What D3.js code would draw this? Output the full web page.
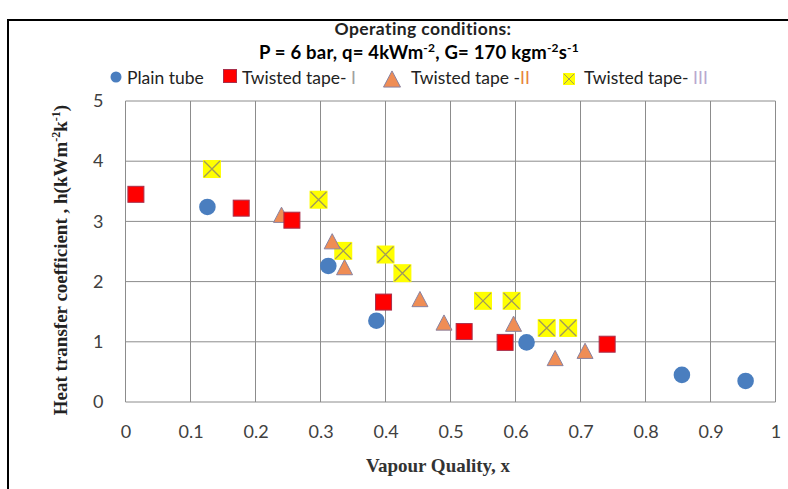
<!DOCTYPE html>
<html><head><meta charset="utf-8">
<script src="https://cdn.jsdelivr.net/npm/d3@7"></script>
<style>body{margin:0;background:#fff;} svg{display:block;}</style>
</head><body>
<svg id="c" width="788" height="489"></svg>
<script>
const titleLine1 = "Operating conditions:";
const xTicks = [0,0.1,0.2,0.3,0.4,0.5,0.6,0.7,0.8,0.9,1];
const yTicks = [0,1,2,3,4,5];
const seriesNames = ["Plain tube","Twisted tape- ","Twisted tape -","Twisted tape- "];
const seriesSuffix = ["","I","II","III"];
const plainX = [0.126, 0.312, 0.386, 0.617, 0.856, 0.954];
const plainY = [3.24, 2.26, 1.35, 0.99, 0.45, 0.35];
const tt1X = [0.016, 0.178, 0.256, 0.397, 0.521, 0.584, 0.741];
const tt1Y = [3.45, 3.22, 3.02, 1.66, 1.17, 0.99, 0.96];
const tt2X = [0.240, 0.318, 0.337, 0.453, 0.490, 0.597, 0.661, 0.707];
const tt2Y = [3.11, 2.67, 2.24, 1.71, 1.32, 1.30, 0.73, 0.85];
const tt3X = [0.133, 0.297, 0.335, 0.400, 0.426, 0.550, 0.594, 0.648, 0.681];
const tt3Y = [3.87, 3.36, 2.51, 2.45, 2.14, 1.68, 1.68, 1.23, 1.23];

const svg = d3.select("#c");
const m = {l:125.5, r:775.5, t:101, b:402};
const x = d3.scaleLinear().domain([0,1]).range([m.l, m.r]);
const y = d3.scaleLinear().domain([0,5]).range([m.b, m.t]);
const sans = "Lato, 'Open Sans', sans-serif";
const serif = "'Liberation Serif', 'Times New Roman', serif";

// frame
svg.append("rect").attr("x",8).attr("y",20).attr("width",800).attr("height",500)
  .attr("fill","none").attr("stroke","#000").attr("stroke-width",2);

// grid
const grid = svg.append("g");
grid.selectAll("line.v").data(xTicks).join("line")
  .attr("x1",d=>x(d)).attr("x2",d=>x(d)).attr("y1",m.t).attr("y2",m.b)
  .attr("stroke","#8c8c8c").attr("stroke-width",1);
grid.selectAll("line.h").data(yTicks).join("line")
  .attr("y1",d=>y(d)).attr("y2",d=>y(d)).attr("x1",m.l).attr("x2",m.r)
  .attr("stroke","#8c8c8c").attr("stroke-width",1);

// axes via d3 axis
const xAxis = svg.append("g").attr("transform",`translate(0,${m.b})`)
  .call(d3.axisBottom(x).tickValues(xTicks).tickSize(0).tickPadding(23).tickFormat(d3.format("")));
const yAxis = svg.append("g").attr("transform",`translate(${m.l},0)`)
  .call(d3.axisLeft(y).tickValues(yTicks).tickSize(0).tickPadding(22).tickFormat(d3.format("d")));
[xAxis,yAxis].forEach(a=>{
  a.select(".domain").remove();
  a.selectAll("text").attr("font-family",sans).attr("font-size",18).attr("fill","#404040");
});

// titles
svg.append("text").attr("x",423).attr("y",35).attr("text-anchor","middle")
  .attr("font-family",sans).attr("font-weight","bold").attr("font-size",17.5).attr("letter-spacing",0.4).attr("fill","#222")
  .text(titleLine1);
const t2 = svg.append("text").attr("x",419).attr("y",59).attr("text-anchor","middle")
  .attr("font-family",sans).attr("font-weight","bold").attr("font-size",18.5).attr("letter-spacing",0.2).attr("fill","#000");
t2.append("tspan").text("P = 6 bar, q= 4kWm");
t2.append("tspan").attr("dy",-7).attr("font-size",12).text("-2");
t2.append("tspan").attr("dy",7).text(", G= 170 kgm");
t2.append("tspan").attr("dy",-7).attr("font-size",12).text("-2");
t2.append("tspan").attr("dy",7).text("s");
t2.append("tspan").attr("dy",-7).attr("font-size",12).text("-1");

// axis titles
svg.append("text").attr("x",438).attr("y",472).attr("text-anchor","middle")
  .attr("font-family",serif).attr("font-weight","bold").attr("font-size",19).attr("fill","#333")
  .text("Vapour Quality, x");
const yt = svg.append("text").attr("transform","translate(67,260) rotate(-90)").attr("text-anchor","middle")
  .attr("font-family",serif).attr("font-weight","bold").attr("font-size",19).attr("fill","#222");
yt.append("tspan").text("Heat transfer coefficient  , h(kWm");
yt.append("tspan").attr("dy",-7).attr("font-size",12).text("-2");
yt.append("tspan").attr("dy",7).text("k");
yt.append("tspan").attr("dy",-7).attr("font-size",12).text("-1");
yt.append("tspan").attr("dy",7).text(")");

// marker drawers
function circle(g,cx,cy,r){ g.append("circle").attr("cx",cx).attr("cy",cy).attr("r",r).attr("fill","#4a7ebf"); }
function square(g,cx,cy,s){ g.append("rect").attr("x",cx-s/2).attr("y",cy-s/2).attr("width",s).attr("height",s)
  .attr("fill","#ff0000").attr("stroke","#a8304c").attr("stroke-width",1); }
function tri(g,cx,cy,s){ const h=s*0.95;
  g.append("path").attr("d",`M${cx},${cy-h/2}L${cx+s/2},${cy+h/2}L${cx-s/2},${cy+h/2}Z`)
   .attr("fill","#ef8d55").attr("stroke","#8a82a0").attr("stroke-width",1); }
function xmark(g,cx,cy,s,lw){ g.append("rect").attr("x",cx-s/2).attr("y",cy-s/2).attr("width",s).attr("height",s).attr("fill","#ffff00");
  g.append("path").attr("d",`M${cx-s/2+1},${cy-s/2+1}L${cx+s/2-1},${cy+s/2-1}M${cx+s/2-1},${cy-s/2+1}L${cx-s/2+1},${cy+s/2-1}`)
   .attr("stroke","#a09a5a").attr("stroke-width",lw); }

const pts = svg.append("g");
tt3X.forEach((v,i)=>xmark(pts,x(v),y(tt3Y[i]),18,1.3));
tt2X.forEach((v,i)=>tri(pts,x(v),y(tt2Y[i]),16));
tt1X.forEach((v,i)=>square(pts,x(v),y(tt1Y[i]),16));
plainX.forEach((v,i)=>circle(pts,x(v),y(plainY[i]),8.3));

// legend
const lg = svg.append("g");
const ly = 77;
circle(lg,116,ly,5.5);
square(lg,230,ly-1,13);
tri(lg,392,ly+2,17);
xmark(lg,569,ly+2,12,1);
const legText = [[127,0,"#a0a0a0"],[242,1,"#a0a0a0"],[411,2,"#e8843c"],[584,3,"#b8a8d0"]];
legText.forEach(([lx,i,c])=>{
  const t = lg.append("text").attr("x",lx).attr("y",ly+6.5).attr("font-family",sans).attr("font-size",17.5).attr("fill","#222");
  t.append("tspan").text(seriesNames[i]);
  if(seriesSuffix[i]) t.append("tspan").attr("fill",c).text(seriesSuffix[i]);
});
</script>
</body></html>
